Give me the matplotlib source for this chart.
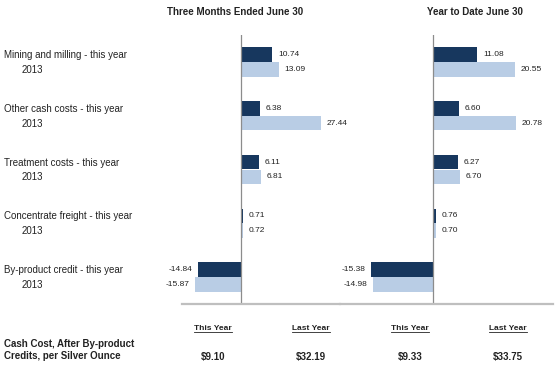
import matplotlib.pyplot as plt
from matplotlib.lines import Line2D

plt.rcParams['font.family'] = ['Liberation Sans', 'DejaVu Sans']

categories = ['Mining and milling', 'Other cash costs', 'Treatment costs',
              'Concentrate freight', 'By-product credit']
prior_label = '2013'
qtr_this = [10.74, 6.38, 6.11, 0.71, -14.84]
qtr_last = [13.09, 27.44, 6.81, 0.72, -15.87]
ytd_this = [11.08, 6.60, 6.27, 0.76, -15.38]
ytd_last = [20.55, 20.78, 6.70, 0.70, -14.98]
panel_titles = ['Three Months Ended June 30', 'Year to Date June 30']
col_heads = ['This Year', 'Last Year', 'This Year', 'Last Year']
totals = ['$9.10', '$32.19', '$9.33', '$33.75']
summary_label = 'Cash Cost, After By-product\nCredits, per Silver Ounce'

DARK = '#17375E'
LIGHT = '#B9CDE5'
TXT = '#222222'

W, H = 556, 379
fig = plt.figure(figsize=(W / 100, H / 100), dpi=100)


def px_axes(x0, x1, y0, y1):
    # pixel box (top-left origin) -> figure axes
    return fig.add_axes([x0 / W, 1 - y1 / H, (x1 - x0) / W, (y1 - y0) / H])


def panel(ax, this_vals, last_vals, xlim):
    n = len(this_vals)
    h = 0.275
    ys = [i + 0.5 for i in range(n)]
    ax.patch.set_visible(False)
    ax.barh([y - h / 2 for y in ys], this_vals, height=h, color=DARK)
    ax.barh([y + h / 2 for y in ys], last_vals, height=h, color=LIGHT)
    ax.set_xlim(*xlim)
    ax.set_ylim(n, 0)
    ax.axvline(0, color='#8C8C8C', lw=0.9)
    for s in ['top', 'left', 'right']:
        ax.spines[s].set_visible(False)
    ax.spines['bottom'].set_color('#BFBFBF')
    ax.spines['bottom'].set_linewidth(1.6)
    ax.set_xticks([])
    ax.set_yticks([])
    for vals, off in [(this_vals, -h / 2), (last_vals, h / 2)]:
        for y, v in zip(ys, vals):
            if v >= 0:
                ax.annotate(f'{v:.2f}', (v, y + off), xytext=(4, 0), textcoords='offset points',
                            ha='left', va='center', fontsize=6, color=TXT,
                            annotation_clip=False)
            else:
                ax.annotate(f'{v:.2f}', (v, y + off), xytext=(-4, 0), textcoords='offset points',
                            ha='right', va='center', fontsize=6, color=TXT,
                            annotation_clip=False)


ax1 = px_axes(182, 340, 35, 304)
panel(ax1, qtr_this, qtr_last, ((182 - 241) / 2.92, (340 - 241) / 2.92))
ax2 = px_axes(340, 553, 35, 304)
panel(ax2, ytd_this, ytd_last, ((340 - 433) / 4.0, (553 - 433) / 4.0))

# category labels
for i, c in enumerate(categories):
    yc = 35 + (i + 0.5) * 269 / 5
    fig.text(4 / W, 1 - (yc - 7) / H, f'{c} - this year', ha='left', va='center',
             fontsize=7, color=TXT)
    fig.text(22 / W, 1 - (yc + 8) / H, prior_label, ha='left', va='center',
             fontsize=7, color=TXT)

for t, xc in zip(panel_titles, [235, 475]):
    fig.text(xc / W, 1 - 12 / H, t, ha='center', va='center', fontsize=7,
             fontweight='bold', color=TXT)

fig.text(4 / W, 1 - 350 / H, summary_label, ha='left', va='center', fontsize=7,
         fontweight='bold', color=TXT, linespacing=1.25)

col_x = [213, 311, 410, 508]
heads = []
for hd, tot, xc in zip(col_heads, totals, col_x):
    heads.append(fig.text(xc / W, 1 - 329 / H, hd, ha='center', va='center', fontsize=6,
                          fontweight='bold', color=TXT))
    fig.text(xc / W, 1 - 357 / H, tot, ha='center', va='center', fontsize=7,
             fontweight='bold', color=TXT)

# underline the column heads
fig.canvas.draw()
r = fig.canvas.get_renderer()
for t in heads:
    bb = t.get_window_extent(r)
    yline = (bb.y0 + 0.5) / fig.bbox.height
    fig.add_artist(Line2D([bb.x0 / fig.bbox.width, bb.x1 / fig.bbox.width], [yline, yline],
                          color=TXT, lw=0.6))

fig.savefig('out.png', dpi=100)
